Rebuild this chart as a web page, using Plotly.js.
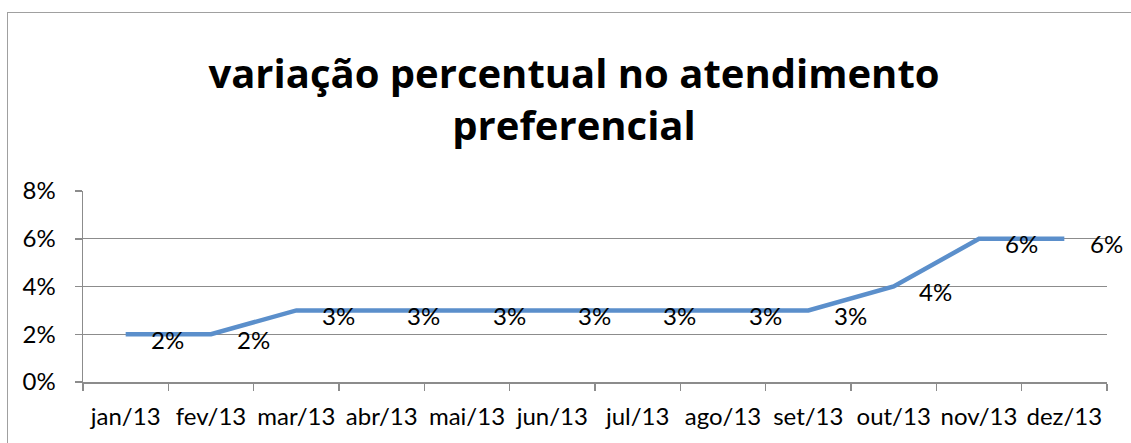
<!DOCTYPE html>
<html>
<head>
<meta charset="utf-8">
<script src="https://cdn.plot.ly/plotly-3.0.1.min.js"></script>
<style>
  html, body { margin: 0; padding: 0; background: #ffffff; overflow: hidden; scrollbar-width: none; }
  ::-webkit-scrollbar { display: none; width: 0; height: 0; }
  #wrap { position: relative; width: 1131px; height: 443px; overflow: hidden; }
  #chart { width: 1131px; height: 443px; }
  /* chart frame: only its left and top edges fall inside the view */
  #frame {
    position: absolute; left: 7px; top: 12px; width: 1200px; height: 500px;
    border-left: 1.5px solid #a0a0a0; border-top: 1.5px solid #a0a0a0;
    pointer-events: none;
  }
</style>
</head>
<body>
<div id="wrap">
  <div id="chart"></div>
  <div id="frame"></div>
</div>
<script>
// Monthly categories and the percentage values of the series
const months = ['jan/13', 'fev/13', 'mar/13', 'abr/13', 'mai/13', 'jun/13',
                'jul/13', 'ago/13', 'set/13', 'out/13', 'nov/13', 'dez/13'];
const values = [0.02, 0.02, 0.03, 0.03, 0.03, 0.03, 0.03, 0.03, 0.03, 0.04, 0.06, 0.06];
const yTicks = [0, 0.02, 0.04, 0.06, 0.08];
const yTickText = ['0%', '2%', '4%', '6%', '8%'];
const chartTitle = 'variação percentual no atendimento<br>preferencial';

const FONT = 'Lato, "Open Sans", sans-serif';
const TITLE_FONT = '"Open Sans", Lato, sans-serif';
const GRID = '#8c8c8c';

const trace = {
  type: 'scatter',
  mode: 'lines',
  x: months,
  y: values,
  line: { color: '#5b8fcb', width: 4.5 },
  hoverinfo: 'skip'
};

// Value labels sit to the right of each point, as percentages
const labels = months.map((m, i) => ({
  x: m,
  y: values[i],
  xref: 'x',
  yref: 'y',
  text: Math.round(values[i] * 100) + '%',
  showarrow: false,
  xshift: 42,
  yshift: -5,
  font: { family: FONT, size: 24, color: '#000000' }
}));

const layout = {
  width: 1131,
  height: 443,
  margin: { l: 83, r: 24, t: 191, b: 61, pad: 0 },
  paper_bgcolor: '#ffffff',
  plot_bgcolor: '#ffffff',
  showlegend: false,
  font: { family: FONT, size: 24, color: '#000000' },
  title: {
    text: chartTitle,
    font: { family: TITLE_FONT, size: 40, color: '#000000', weight: 'bold' },
    x: 574 / 1131,
    xanchor: 'center',
    xref: 'container',
    y: 1 - 88 / 443,
    yanchor: 'bottom',
    yref: 'container'
  },
  xaxis: {
    type: 'category',
    range: [-0.5, 11.5],
    showgrid: false,
    showline: true,
    linecolor: GRID,
    linewidth: 1.5,
    ticks: 'outside',
    tickson: 'boundaries',
    ticklen: 7,
    tickcolor: GRID,
    tickwidth: 1.5,
    tickangle: 0,
    ticklabelstandoff: 13,
    tickfont: { family: FONT, size: 24, color: '#000000' },
    zeroline: false,
    fixedrange: true
  },
  yaxis: {
    range: [0, 0.08],
    tickvals: yTicks,
    ticktext: yTickText,
    showgrid: true,
    gridcolor: GRID,
    gridwidth: 1.2,
    showline: true,
    linecolor: GRID,
    linewidth: 1.5,
    ticks: 'outside',
    ticklen: 7,
    tickcolor: GRID,
    tickwidth: 1.5,
    ticklabelstandoff: 14,
    tickfont: { family: FONT, size: 24, color: '#000000' },
    zeroline: false,
    fixedrange: true
  },
  annotations: labels
};

Plotly.newPlot('chart', [trace], layout, { staticPlot: true, displayModeBar: false });
</script>
</body>
</html>
